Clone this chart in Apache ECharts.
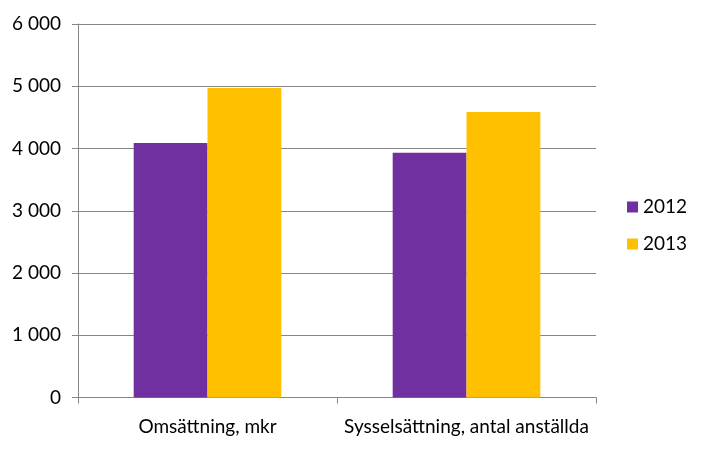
<!DOCTYPE html>
<html><head><meta charset="utf-8">
<script src="https://cdn.jsdelivr.net/npm/echarts@6/dist/echarts.min.js"></script>
<style>html,body{margin:0;padding:0;background:#fff}#c{width:706px;height:450px}</style>
</head><body><div id="c"></div>
<script>
var categories = ["Omsättning, mkr", "Sysselsättning, antal anställda"];
var series2012 = [4090, 3930];
var series2013 = [4970, 4585];
var seriesNames = ["2012", "2013"];
var yTicks = [0, 1000, 2000, 3000, 4000, 5000, 6000];

var font = "Lato, 'Open Sans', sans-serif";
var chart = echarts.init(document.getElementById('c'), null, {renderer: 'canvas'});
chart.setOption({
  animation: false,
  backgroundColor: '#fff',
  grid: {left: 78, right: 110, top: 24, bottom: 52.5, containLabel: false},
  legend: {
    orient: 'vertical', left: 622, top: 192, itemWidth: 11, itemHeight: 11, itemGap: 17,
    icon: 'rect',
    textStyle: {fontFamily: font, fontSize: 19, lineHeight: 20, color: '#000', padding: [0,0,0,0]},
    data: seriesNames
  },
  xAxis: {
    type: 'category', data: categories,
    axisLine: {lineStyle: {color: '#868686', width: 1}},
    axisTick: {show: true, length: 6, lineStyle: {color: '#868686'}},
    axisLabel: {fontFamily: font, fontSize: 19, color: '#000', margin: 20, interval: 0}
  },
  yAxis: {
    type: 'value', min: yTicks[0], max: yTicks[yTicks.length-1], interval: 1000,
    axisLine: {show: true, lineStyle: {color: '#868686', width: 1}},
    axisTick: {show: true, length: 6, lineStyle: {color: '#868686'}},
    splitLine: {lineStyle: {color: '#868686', width: 1}},
    axisLabel: {fontFamily: font, fontSize: 19, color: '#000', margin: 17,
      formatter: function(v){ return String(v).replace(/\B(?=(\d{3})+(?!\d))/g, ' '); }}
  },
  series: [
    {name: seriesNames[0], type: 'bar', data: series2012, itemStyle: {color: '#7030A0'},
     barGap: '0%', barCategoryGap: '43%'},
    {name: seriesNames[1], type: 'bar', data: series2013, itemStyle: {color: '#FFC000'},
     barGap: '0%', barCategoryGap: '43%'}
  ]
});
</script></body></html>
